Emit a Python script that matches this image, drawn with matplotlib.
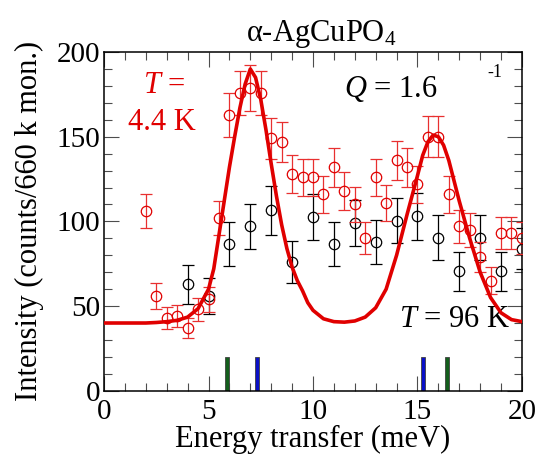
import numpy as np
import matplotlib.pyplot as plt
from matplotlib.ticker import MultipleLocator

plt.rcParams['font.family'] = ['Liberation Serif', 'DejaVu Serif']
plt.rcParams['mathtext.fontset'] = 'custom'
plt.rcParams['mathtext.rm'] = 'Liberation Serif'
plt.rcParams['mathtext.it'] = 'Liberation Serif:italic'

# data
red_e = [2.0, 2.5, 3.0, 3.5, 4.0, 4.5, 5.0, 5.5, 6.0, 6.5, 7.0, 7.5, 8.0, 8.5, 9.0, 9.5,
         10.0, 10.5, 11.0, 11.5, 12.0, 12.5, 13.0, 13.5, 14.0, 14.5, 15.0, 15.5, 16.0,
         16.5, 17.0, 17.5, 18.0, 18.5, 19.0, 19.5, 20.0]
red_i = [106, 56, 43, 44, 37, 48, 54, 102, 163, 176, 179, 176, 149, 147, 128, 126,
         126, 116, 132, 118, 110, 90, 126, 111, 136, 132, 122, 150, 150,
         116, 97, 95, 79, 65, 93, 93, 90]
red_err = [10, 7.5, 6.5, 6.5, 6, 7, 7.5, 10, 13, 13, 13.5, 13, 12, 12, 11.5, 11,
           11, 11, 11.5, 11, 10.5, 9.5, 11, 10.5, 11.5, 11.5, 11, 12, 12,
           11, 10, 10, 9, 8, 9.5, 9.5, 9.5]

black_e = [4, 5, 6, 7, 8, 9, 10, 11, 12, 13, 14, 15, 16, 17, 18, 19, 20]
black_i = [63, 56, 86.5, 97, 106.5, 76, 102.5, 86.5, 99, 88, 100.5, 103, 90.5, 70.5,
           90.5, 70.5, 84]
black_err = [11.5, 10.8, 13, 13.5, 14.5, 12.3, 13.5, 13, 13.5, 13, 13.5, 14, 13, 11.6,
             13, 11.6, 12]

# fitted curve
fit_e = [0, 1, 2, 2.5, 3, 3.5, 4, 4.5, 5, 5.25, 5.5, 5.75, 6, 6.25, 6.5, 6.75, 7.0,
         7.25, 7.5, 7.75, 8.0, 8.25, 8.5, 8.75, 9.0, 9.25, 9.5, 9.75, 10.0, 10.5, 11,
         11.5, 12, 12.5, 13, 13.5, 14, 14.5, 15, 15.25, 15.5, 15.75, 16, 16.25, 16.5,
         16.75, 17, 17.25, 17.5, 17.75, 18, 18.5, 19, 19.5, 20]
fit_i = [40, 40, 40, 40.3, 40.8, 41.6, 43.5, 48.5, 60, 72, 92, 112, 132, 150, 167, 181, 190,
         185, 172, 154, 134, 115, 98, 84, 73, 65, 59, 52, 47.5, 42.5, 40.8,
         40.5, 41.2, 43.5, 49, 60, 80, 104, 127, 139, 147, 151, 150, 145, 136,
         124, 112, 101, 90, 80, 70, 55, 46, 42, 40.8]

mode_e = [5.9, 7.3, 15.28, 16.4]
mode_h = [20, 20, 20, 20]
mode_c = ['#135e1c', '#0a10c8', '#0a10c8', '#135e1c']

red = '#e00000'

fig = plt.figure(figsize=(5.42, 4.57), dpi=100)
ax = fig.add_axes([0.192, 0.145, 0.771, 0.741])

ax.bar(mode_e, mode_h, width=0.2, color=mode_c, edgecolor='0.25', linewidth=0.6, zorder=2)

ax.errorbar(black_e, black_i, yerr=black_err, fmt='o', ms=7.5, mfc='none', mec='k',
            mew=0.9, ecolor='k', elinewidth=0.9, capsize=4.5, capthick=0.9, zorder=3)
ax.errorbar(red_e, red_i, yerr=red_err, fmt='o', ms=7.5, mfc='none', mec=red,
            mew=0.9, ecolor='#e83030', elinewidth=0.9, capsize=4.5, capthick=0.9, zorder=4)
ax.plot(fit_e, fit_i, color=red, lw=2.6, zorder=5)

ax.set_xlim(0, 20)
ax.set_ylim(0, 200)
ax.xaxis.set_major_locator(MultipleLocator(5))
ax.xaxis.set_minor_locator(MultipleLocator(1))
ax.yaxis.set_major_locator(MultipleLocator(50))
ax.yaxis.set_minor_locator(MultipleLocator(10))
ax.tick_params(which='both', direction='in', top=True, right=True, color='0.3',
               width=0.8, labelsize=21)
ax.tick_params(which='major', length=11)
ax.tick_params(which='minor', length=5.5)
ax.tick_params(axis='x', pad=6)
ax.tick_params(axis='y', pad=3)
for s in ax.spines.values():
    s.set_linewidth(1.1)

ax.set_xlabel('Energy transfer (meV)', fontsize=22, labelpad=0)
ax.set_ylabel('Intensity (counts/660 k mon.)', fontsize=22, labelpad=9)
ax.set_title(r'α-AgCuPO$_4$', fontsize=22, pad=8, x=0.52)

ax.text(1.87, 176, r'$T$ =', color=red, fontsize=22, va='baseline')
ax.text(1.15, 154, '4.4 K', color=red, fontsize=22, va='baseline')
ax.text(11.5, 173.6, r'$Q$ = 1.6', color='k', fontsize=22, va='baseline')
ax.text(18.35, 185, '-1', color='k', fontsize=13, va='baseline')
ax.text(14.1, 37.6, r'$T$ = 96 K', color='k', fontsize=22, va='baseline')

fig.savefig('out.png', dpi=100)
